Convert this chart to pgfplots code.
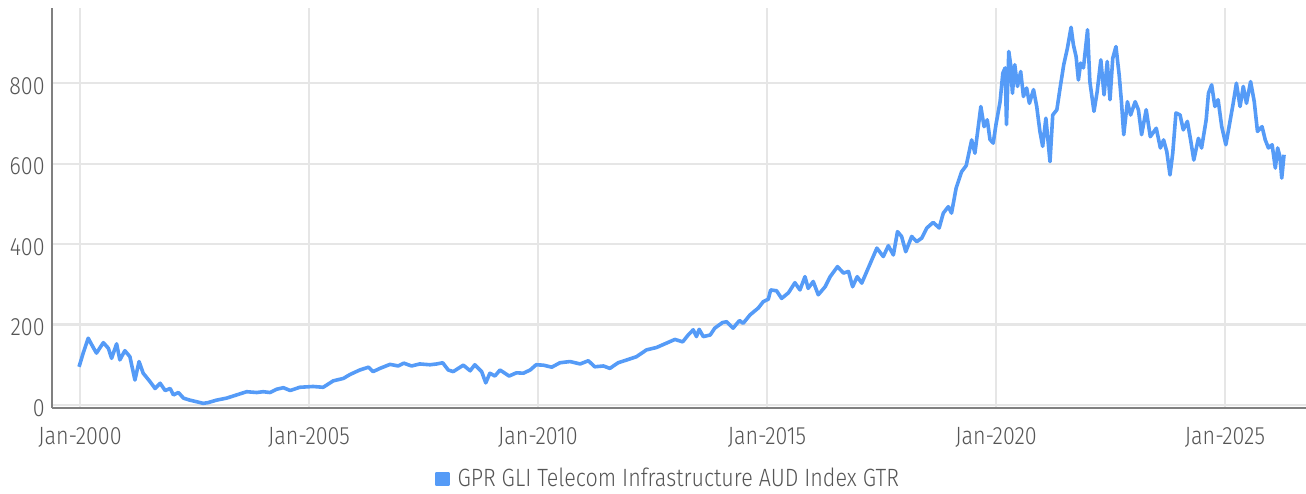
\documentclass[border=0pt]{standalone}
\usepackage{pgfplots}
\pgfplotsset{compat=1.18}
\usepackage{fontspec}
\setmainfont{Fira Sans}[UprightFont={* Light}, FakeStretch=0.86]
\definecolor{lineblue}{HTML}{559BF7}
\definecolor{gridgray}{HTML}{E6E6E6}
\definecolor{axisgray}{HTML}{808080}
\definecolor{textgray}{HTML}{555555}
\begin{document}
\begin{tikzpicture}
\useasboundingbox (-26pt,-42.5pt) rectangle (627pt,204pt);
\begin{axis}[
  at={(0pt,0pt)}, anchor=south west,
  scale only axis, width=627pt, height=200pt,
  xmin=1999.389, xmax=2026.77,
  ymin=-7.5, ymax=987,
  axis x line*=bottom, axis y line*=left,
  x axis line style={-, color=axisgray, line width=1.4pt},
  y axis line style={-, color=axisgray, line width=1pt},
  xtick={2000,2005,2010,2015,2020,2025},
  xticklabels={Jan-2000,Jan-2005,Jan-2010,Jan-2015,Jan-2020,Jan-2025},
  ytick={0,200,400,600,800},
  major tick length=0pt,
  xmajorgrids, ymajorgrids,
  major grid style={color=gridgray, line width=1.1pt},
  tick label style={font=\fontsize{12.5}{14}\selectfont, text=textgray},
  /pgf/number format/assume math mode=true,
  yticklabel style={anchor=east, inner sep=0pt, xshift=-3.5pt, yshift=-1.5pt},
  xticklabel style={anchor=north, inner sep=0pt, yshift=-9.5pt},
  legend style={at={(axis description cs:0.492,-0.1775)}, anchor=center, draw=none, fill=none,
    font=\fontsize{12.5}{14}\selectfont, text=textgray, inner sep=0pt,
    /tikz/every even column/.append style={column sep=0pt}},
  legend cell align=left,
  legend image code/.code={\fill[lineblue] (0pt,-2.75pt) rectangle (5.5pt,2.75pt);},
]
\addplot[color=lineblue, line width=1.8pt, line join=round] table {
1999.98 95
2000.07 129
2000.18 166
2000.26 149
2000.36 129
2000.51 155
2000.62 141
2000.69 116
2000.80 152
2000.87 112
2000.98 135
2001.09 120
2001.20 62
2001.29 108
2001.38 79
2001.53 58
2001.64 41
2001.75 54
2001.86 36
2001.97 41
2002.04 25
2002.15 31
2002.26 17
2002.40 12
2002.55 8
2002.69 4
2002.80 6
2002.98 12
2003.20 17
2003.42 25
2003.64 33
2003.86 31
2004.00 33
2004.15 31
2004.29 39
2004.44 43
2004.59 36
2004.80 44
2005.09 46
2005.31 44
2005.53 60
2005.75 66
2005.90 76
2006.11 87
2006.30 94
2006.40 83
2006.55 91
2006.77 101
2006.95 97
2007.07 104
2007.24 97
2007.42 102
2007.64 100
2007.79 102
2007.92 105
2008.04 87
2008.15 83
2008.37 99
2008.52 85
2008.62 100
2008.77 83
2008.86 55
2008.95 79
2009.06 72
2009.17 87
2009.37 72
2009.53 80
2009.68 79
2009.83 87
2009.96 100
2010.12 99
2010.30 94
2010.48 105
2010.70 108
2010.92 102
2011.10 110
2011.24 95
2011.43 97
2011.57 91
2011.75 105
2011.94 112
2012.15 120
2012.37 137
2012.59 143
2012.77 152
2012.99 163
2013.16 157
2013.28 174
2013.39 187
2013.46 170
2013.52 188
2013.61 170
2013.76 174
2013.86 191
2014.03 205
2014.12 207
2014.26 191
2014.40 210
2014.48 203
2014.63 224
2014.81 241
2014.92 257
2015.03 263
2015.08 286
2015.21 284
2015.32 265
2015.47 279
2015.61 304
2015.72 286
2015.83 319
2015.90 290
2016.01 307
2016.12 274
2016.27 294
2016.38 319
2016.54 344
2016.67 328
2016.78 332
2016.87 294
2016.97 319
2017.07 303
2017.21 340
2017.40 390
2017.54 369
2017.65 396
2017.76 373
2017.85 431
2017.94 419
2018.03 381
2018.16 419
2018.27 406
2018.38 415
2018.49 440
2018.63 454
2018.76 440
2018.85 477
2018.96 493
2019.03 477
2019.13 539
2019.25 580
2019.35 595
2019.47 659
2019.54 626
2019.67 742
2019.74 692
2019.81 709
2019.87 660
2019.94 651
2020.00 697
2020.09 754
2020.15 825
2020.20 838
2020.23 697
2020.28 879
2020.32 846
2020.36 775
2020.41 846
2020.47 792
2020.54 829
2020.60 767
2020.67 788
2020.73 750
2020.82 784
2020.89 742
2020.96 680
2021.02 643
2021.09 713
2021.18 605
2021.24 721
2021.33 734
2021.40 788
2021.48 846
2021.56 887
2021.64 939
2021.69 896
2021.75 866
2021.80 808
2021.85 850
2021.91 838
2022.00 933
2022.05 804
2022.14 730
2022.21 779
2022.29 858
2022.36 771
2022.43 854
2022.49 759
2022.55 862
2022.62 891
2022.69 821
2022.74 754
2022.79 672
2022.87 754
2022.94 721
2023.04 754
2023.11 734
2023.18 672
2023.28 734
2023.37 667
2023.50 688
2023.59 639
2023.66 659
2023.73 630
2023.80 572
2023.86 626
2023.93 726
2024.02 721
2024.09 684
2024.18 705
2024.25 659
2024.32 609
2024.42 663
2024.49 639
2024.59 709
2024.64 775
2024.71 796
2024.78 742
2024.85 759
2024.93 692
2025.02 647
2025.09 692
2025.18 750
2025.25 800
2025.33 742
2025.40 792
2025.47 750
2025.56 804
2025.64 754
2025.71 680
2025.81 692
2025.88 659
2025.95 639
2026.03 647
2026.10 589
2026.15 639
2026.20 618
2026.24 564
2026.29 622
};
\addlegendentry{\hspace{2pt}GPR GLI Telecom Infrastructure AUD Index GTR}
\end{axis}
\end{tikzpicture}
\end{document}
